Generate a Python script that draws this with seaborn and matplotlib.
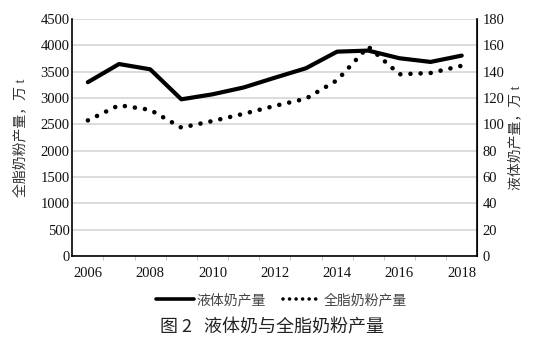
import numpy as np
import pandas as pd
import matplotlib
matplotlib.use("Agg")
import matplotlib.pyplot as plt
import seaborn as sns
from matplotlib.ticker import FixedLocator
from matplotlib.lines import Line2D

# ---- data ----
years = [2006, 2007, 2008, 2009, 2010, 2011, 2012, 2013, 2014, 2015, 2016, 2017, 2018]
liquid_milk = [3300, 3645, 3545, 2975, 3070, 3200, 3385, 3565, 3880, 3900, 3755, 3685, 3805]
milk_powder = [103, 114.5, 111, 97.5, 102.5, 108, 114, 119.5, 133.5, 159, 138, 139, 144.5]
x_tick_labels = ["2006", "2008", "2010", "2012", "2014", "2016", "2018"]
left_ticks = [0, 500, 1000, 1500, 2000, 2500, 3000, 3500, 4000, 4500]
right_ticks = [0, 20, 40, 60, 80, 100, 120, 140, 160, 180]
series_names = ["液体奶产量", "全脂奶粉产量"]
left_label = "全脂奶粉产量，万 t"
right_label = "液体奶产量，万 t"
caption = "图 2   液体奶与全脂奶粉产量"

df = pd.DataFrame({"pos": np.arange(len(years)), "year": years,
                   "liquid": liquid_milk, "powder": milk_powder})

sns.set_style("white")
plt.rcParams["font.family"] = ["Liberation Serif", "Noto Sans CJK SC"]

W, H = 533, 346
fig = plt.figure(figsize=(W / 100, H / 100), dpi=100)
ax = fig.add_axes([72.3 / W, 1 - 256 / H, 405 / W, 237 / H])
ax2 = ax.twinx()

sns.lineplot(data=df, x="pos", y="liquid", ax=ax, color="black", linewidth=3.0,
             solid_capstyle="round", zorder=3)
sns.lineplot(data=df, x="pos", y="powder", ax=ax2, color="black", linewidth=3.3,
             linestyle=(0, (0.01, 2.2)), dash_capstyle="round", zorder=3)

ax.set_xlim(-0.5, len(years) - 0.5)
ax.set_ylim(0, 4500)
ax2.set_ylim(0, 180)

# x axis: labels at even years, small ticks between categories
label_pos = [years.index(int(t)) for t in x_tick_labels]
ax.xaxis.set_major_locator(FixedLocator(label_pos))
ax.set_xticklabels(x_tick_labels)
ax.xaxis.set_minor_locator(FixedLocator(np.arange(len(years) - 1) + 0.5))
ax.tick_params(axis="x", which="major", length=0, pad=8, labelsize=10.5, colors="#111111")
ax.tick_params(axis="x", which="minor", length=3, width=0.6, color="#bbbbbb", direction="out",
               bottom=True)

ax.set_yticks(left_ticks)
ax2.set_yticks(right_ticks)
ax.tick_params(axis="y", length=0, pad=2, labelsize=10.5, colors="#111111")
ax2.tick_params(axis="y", length=0, pad=4, labelsize=10.5, colors="#111111")

ax.grid(axis="y", color="#d9d9d9", linewidth=1.3)
ax.grid(axis="x", visible=False)
ax2.grid(False)
ax.set_axisbelow(True)

for a in (ax, ax2):
    a.spines["top"].set_visible(False)
ax.spines["left"].set_color("black")
ax.spines["bottom"].set_color("black")
ax.spines["left"].set_linewidth(1.2)
ax.spines["bottom"].set_linewidth(1.2)
ax2.spines["right"].set_visible(True)
ax2.spines["right"].set_color("black")
ax2.spines["right"].set_linewidth(1.2)
ax2.spines["left"].set_visible(False)
ax2.spines["bottom"].set_visible(False)

ax.set_xlabel("")
ax.set_ylabel(left_label, fontsize=10, color="#333333")
ax2.set_ylabel(right_label, fontsize=10, color="#333333")
ax.yaxis.set_label_coords(-0.112, 0.5)
ax2.yaxis.set_label_coords(1.076, 0.5)

handles = [Line2D([], [], color="black", linewidth=2.6),
           Line2D([], [], color="black", linewidth=2.6, linestyle=(0, (0.01, 1.8)),
                  dash_capstyle="round")]
leg = fig.legend(handles, series_names, loc="center", bbox_to_anchor=(0.528, 1 - 300 / H),
                 ncol=2, frameon=False, fontsize=10, handlelength=2.75, handletextpad=0.2,
                 columnspacing=1.2)
for t in leg.get_texts():
    t.set_color("#444444")

fig.text(271.7 / W, 1 - 327 / H, caption, ha="center", va="center", fontsize=13,
         color="#222222", family=["Noto Sans CJK SC", "Liberation Serif"])

fig.savefig("out.png", dpi=100)
